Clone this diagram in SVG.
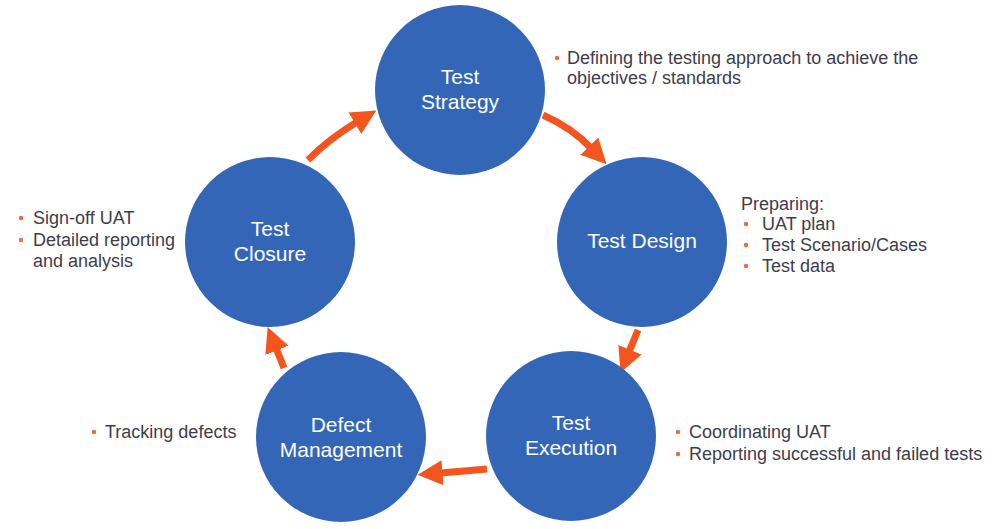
<svg xmlns="http://www.w3.org/2000/svg" width="993" height="529" viewBox="0 0 993 529">
<style>
.node{fill:#3466b7}
.nt{font-family:"Liberation Sans",Arial,sans-serif;font-size:21px;fill:#ffffff;text-anchor:middle}
.lt{font-family:"Liberation Sans",Arial,sans-serif;font-size:18px;fill:#3d3d4b}
.bul{fill:#ec6a3c}
.arr{fill:none;stroke:#f4551f;stroke-width:7;marker-end:url(#ah)}
</style>
<defs>
<marker id="ah" viewBox="0 0 10 10" refX="1" refY="5" markerUnits="userSpaceOnUse" markerWidth="25" markerHeight="30" orient="auto">
<path d="M0,0 L10,5 L0,10 z" fill="#f4551f"/>
</marker>
</defs>
<rect width="993" height="529" fill="#ffffff"/>
<g id="connectors">
<path class="arr" d="M543,115 Q572,128 591,148"/>
<path class="arr" d="M638,330 L629,352"/>
<path class="arr" d="M487,469 Q465,471 440,473"/>
<path class="arr" d="M284,368 L276,348"/>
<path class="arr" d="M308,160 Q330,138 357,122"/>
</g>
<g id="test-strategy">
<circle class="node" cx="460" cy="90" r="85"/>
<text class="nt" x="460" y="84">Test</text>
<text class="nt" x="460" y="109">Strategy</text>
</g>
<g id="test-design">
<circle class="node" cx="642" cy="242" r="85"/>
<text class="nt" x="642" y="248">Test Design</text>
</g>
<g id="test-execution">
<circle class="node" cx="571" cy="436" r="85"/>
<text class="nt" x="571" y="430">Test</text>
<text class="nt" x="571" y="455">Execution</text>
</g>
<g id="defect-management">
<circle class="node" cx="341" cy="437" r="85"/>
<text class="nt" x="341" y="432">Defect</text>
<text class="nt" x="341" y="457">Management</text>
</g>
<g id="test-closure">
<circle class="node" cx="270" cy="242" r="85"/>
<text class="nt" x="270" y="236">Test</text>
<text class="nt" x="270" y="261">Closure</text>
</g>
<g id="note-strategy">
<circle class="bul" cx="557" cy="58" r="2.2"/>
<text class="lt" x="567" y="64">Defining the testing approach to achieve the</text>
<text class="lt" x="567" y="84">objectives / standards</text>
</g>
<g id="note-design">
<text class="lt" x="741" y="210">Preparing:</text>
<circle class="bul" cx="746" cy="224" r="2.2"/>
<text class="lt" x="762" y="230">UAT plan</text>
<circle class="bul" cx="746" cy="245" r="2.2"/>
<text class="lt" x="762" y="251">Test Scenario/Cases</text>
<circle class="bul" cx="746" cy="266" r="2.2"/>
<text class="lt" x="762" y="272">Test data</text>
</g>
<g id="note-closure">
<circle class="bul" cx="21" cy="218" r="2.2"/>
<text class="lt" x="33" y="224">Sign-off UAT</text>
<circle class="bul" cx="21" cy="240" r="2.2"/>
<text class="lt" x="33" y="246">Detailed reporting</text>
<text class="lt" x="33" y="267">and analysis</text>
</g>
<g id="note-execution">
<circle class="bul" cx="678" cy="432" r="2.2"/>
<text class="lt" x="689" y="438">Coordinating UAT</text>
<circle class="bul" cx="678" cy="454" r="2.2"/>
<text class="lt" x="689" y="460">Reporting successful and failed tests</text>
</g>
<g id="note-defect">
<circle class="bul" cx="94" cy="432" r="2.2"/>
<text class="lt" x="105" y="438">Tracking defects</text>
</g>
</svg>
